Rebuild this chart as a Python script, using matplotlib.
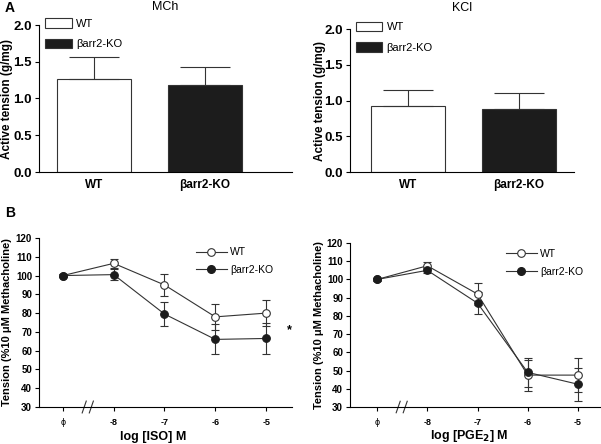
import numpy as np
import matplotlib
matplotlib.use("Agg")
import matplotlib.pyplot as plt
from matplotlib.patches import Patch
from matplotlib.lines import Line2D

plt.rcParams['font.family'] = ['Liberation Sans', 'DejaVu Sans']

# panel A data
groups = ["WT", "βarr2-KO"]
mch_mean = [1.27, 1.19]
mch_err = [0.29, 0.24]
kcl_mean = [0.92, 0.88]
kcl_err = [0.22, 0.22]

# panel B data (phi plotted at -9)
dose_pos = [-9, -8, -7, -6, -5]
dose_labels = ["ϕ", "-8", "-7", "-6", "-5"]
iso_wt = [100, 106.5, 95, 78, 80]
iso_wt_err = [1, 2.5, 6, 7, 7]
iso_ko = [100, 100.5, 79.5, 66, 66.5]
iso_ko_err = [1, 3, 6.5, 8, 8.5]
pge_wt = [100, 107.5, 92, 47.5, 47.5]
pge_wt_err = [1, 2, 6, 8.5, 9.5]
pge_ko = [100, 105, 87, 49, 42.5]
pge_ko_err = [1, 1.5, 6, 8, 9]

W, H = 601, 444
fig = plt.figure(figsize=(6.01, 4.44), dpi=100)

def box(l, r, t, b):
    return [l / W, 1 - b / H, (r - l) / W, (b - t) / H]

ax1 = fig.add_axes(box(39, 292, 25, 172))
ax2 = fig.add_axes(box(350, 574, 29, 172))
ax3 = fig.add_axes(box(39, 292, 238, 407))
ax4 = fig.add_axes(box(350, 601, 243, 407))

def style(ax, ysize):
    ax.spines['top'].set_visible(False)
    ax.spines['right'].set_visible(False)
    for s in ['left', 'bottom']:
        ax.spines[s].set_linewidth(0.8)
    ax.tick_params(direction='out', length=3, width=0.8, pad=2)
    ax.tick_params(axis='y', labelsize=ysize)
    for lab in ax.get_yticklabels():
        lab.set_fontweight('bold')

def bar_panel(ax, means, errs, title, xlim, ty, leg_y, lab_x):
    x = np.arange(len(groups))
    ax.bar(x, means, width=0.666, color=['white', '#1c1c1c'],
           edgecolor='#333333', linewidth=0.8)
    ax.errorbar(x, means, yerr=[np.zeros(len(errs)), errs], fmt='none',
                ecolor='#333333', elinewidth=0.8, capsize=18, capthick=0.8)
    ax.set_xlim(*xlim)
    ax.set_ylim(0, 2.0)
    ax.set_yticks([0, 0.5, 1.0, 1.5, 2.0])
    ax.set_yticklabels(["0.0", "0.5", "1.0", "1.5", "2.0"])
    ax.set_xticks(x)
    ax.set_xticklabels(groups, fontsize=8.5, fontweight='bold')
    style(ax, 9.5)
    ax.tick_params(axis='x', length=0, pad=5)
    ax.set_ylabel("Active tension (g/mg)", fontsize=8.5, fontweight='bold')
    ax.yaxis.set_label_coords(lab_x, 0.5)
    pos = ax.get_position()
    fig.text((pos.x0 + pos.x1) / 2, 1 - ty / H, title, fontsize=9,
             ha='center', va='center')
    h = [Patch(facecolor='white', edgecolor='#333333', linewidth=0.8),
         Patch(facecolor='#1c1c1c', edgecolor='#333333', linewidth=0.8)]
    ax.legend(h, groups, loc='upper left', bbox_to_anchor=(0.025, leg_y),
              frameon=False, fontsize=8, handlelength=2.4, handleheight=0.9,
              handletextpad=0.4, labelspacing=0.9, borderpad=0, borderaxespad=0)

bar_panel(ax1, mch_mean, mch_err, "MCh", (-0.494, 1.784), 7, 1.045, -0.103)
bar_panel(ax2, kcl_mean, kcl_err, "KCl", (-0.523, 1.497), 8, 1.05, -0.107)

def dose_panel(ax, wt, wt_err, ko, ko_err, xlabel, xlim, leg_y, lab_x, xl_pos):
    ax.errorbar(dose_pos, wt, yerr=wt_err, color='#333333', lw=0.8,
                marker='o', ms=5.5, mfc='white', mec='#333333', mew=0.8,
                capsize=3, elinewidth=0.8, capthick=0.8, label='WT')
    ax.errorbar(dose_pos, ko, yerr=ko_err, color='#333333', lw=0.8,
                marker='o', ms=5.5, mfc='#1c1c1c', mec='#1c1c1c', mew=0.8,
                capsize=3, elinewidth=0.8, capthick=0.8, label='βarr2-KO')
    ax.set_xlim(*xlim)
    ax.set_ylim(30, 120)
    ax.set_yticks(range(30, 121, 10))
    ax.set_xticks(dose_pos)
    ax.set_xticklabels(dose_labels, fontsize=6.5, fontweight='bold')
    ax.get_xticklabels()[0].set_fontweight('normal')
    style(ax, 7)
    ax.tick_params(axis='x', pad=5)
    ax.set_ylabel("Tension (%10 μM Methacholine)", fontsize=8, fontweight='bold')
    ax.yaxis.set_label_coords(lab_x, 0.5)
    ax.set_xlabel(xlabel, fontsize=9, fontweight='bold')
    ax.xaxis.set_label_coords(*xl_pos)
    # axis break marks
    tr = ax.get_xaxis_transform()
    for xb in (-8.58, -8.44):
        ax.plot([xb - 0.04, xb + 0.04], [-0.035, 0.035], color='#333333',
                lw=0.8, transform=tr, clip_on=False)
    h = [Line2D([], [], color='#333333', lw=0.8, marker='o', ms=5.5,
                mfc='white', mec='#333333', mew=0.8),
         Line2D([], [], color='#333333', lw=0.8, marker='o', ms=5.5,
                mfc='#1c1c1c', mec='#1c1c1c')]
    ax.legend(h, ['WT', 'βarr2-KO'], loc='upper left', bbox_to_anchor=(0.62, leg_y),
              frameon=False, fontsize=7.5, handlelength=3.0, handletextpad=0.3,
              labelspacing=0.75, borderpad=0, borderaxespad=0)

dose_panel(ax3, iso_wt, iso_wt_err, iso_ko, iso_ko_err, "log [ISO] M",
           (-9.47, -4.49), 0.945, -0.107, (0.45, -0.14))
dose_panel(ax4, pge_wt, pge_wt_err, pge_ko, pge_ko_err, "log [PGE$_\\mathbf{2}$] M",
           (-9.54, -4.54), 0.965, -0.104, (0.474, -0.13))

ax3.text(-4.55, 71, "*", fontsize=9, fontweight='bold', ha='center', va='center',
         clip_on=False)

fig.text(5 / W, 1 - 8 / H, "A", fontsize=10, fontweight='bold', va='center')
fig.text(5 / W, 1 - 213 / H, "B", fontsize=10, fontweight='bold', va='center')

fig.savefig("out.png", dpi=100)
